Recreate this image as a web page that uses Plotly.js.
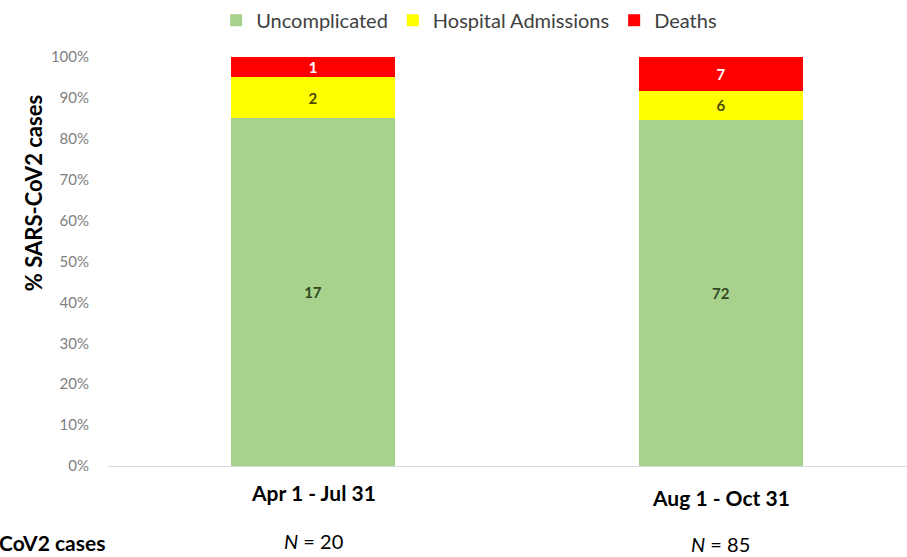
<!DOCTYPE html>
<html>
<head>
<meta charset="utf-8">
<script src="https://cdn.plot.ly/plotly-3.0.1.min.js"></script>
<style>
  html, body { margin: 0; padding: 0; background: #fff; }
  #chart { width: 907px; height: 557px; }
</style>
</head>
<body>
<div id="chart"></div>
<script>
// Study periods and case counts per outcome
const periods = ["Apr 1 - Jul 31", "Aug 1 - Oct 31"];
const totals = [20, 85];
const uncomplicated = [17, 72];
const hospital = [2, 6];
const deaths = [1, 7];
const yTicks = [0, 10, 20, 30, 40, 50, 60, 70, 80, 90, 100];

const FONT = "Lato, 'Open Sans', sans-serif";

function series(name, values, color, textColor) {
  return {
    type: "bar",
    name: name,
    x: periods,
    y: values,
    text: values.map(String),
    textposition: "inside",
    insidetextanchor: "middle",
    constraintext: "none",
    textangle: 0,
    textfont: { family: FONT, size: 15, color: textColor, weight: "bold" },
    marker: { color: color, line: { width: 0 } },
    hoverinfo: "name+y"
  };
}

const data = [
  series("Uncomplicated", uncomplicated, "#A9D18E", "#2F4A1F"),
  series("Hospital Admissions", hospital, "#FFFF00", "#4A4A00"),
  series("Deaths", deaths, "#FF0000", "#FFFFFF")
];

const annotations = [
  {
    text: "<b>% SARS-CoV2 cases</b>",
    xref: "paper", yref: "paper", x: -0.0939, y: 0.667,
    xanchor: "center", yanchor: "middle",
    textangle: -90, showarrow: false,
    font: { family: FONT, size: 22, color: "#000" }
  },
  {
    text: "<b>CoV2 cases</b>",
    xref: "paper", yref: "paper", x: -0.0015, y: -0.188,
    xanchor: "right", yanchor: "middle", showarrow: false,
    font: { family: FONT, size: 21, color: "#000" }
  }
];
// Period labels and sample sizes under each bar
const labelY = [-0.065, -0.078];
const nY = [-0.183, -0.190];
periods.forEach(function (p, i) {
  annotations.push({
    text: "<b>" + p + "</b>",
    xref: "x", yref: "paper", x: p, y: labelY[i],
    xanchor: "center", yanchor: "middle", showarrow: false,
    font: { family: FONT, size: 21, color: "#000" }
  });
  annotations.push({
    text: "<i>N</i> = " + totals[i],
    xref: "x", yref: "paper", x: p, y: nY[i],
    xanchor: "center", yanchor: "middle", showarrow: false,
    font: { family: FONT, size: 20, color: "#000" }
  });
});

const layout = {
  width: 907, height: 557,
  margin: { l: 108, r: 0, t: 57, b: 91 },
  paper_bgcolor: "#fff", plot_bgcolor: "#fff",
  barmode: "stack", barnorm: "percent", bargap: 0.6,
  showlegend: true,
  legend: {
    orientation: "h", xref: "paper", yref: "paper",
    x: 0.452, xanchor: "center", y: 1.09, yanchor: "middle",
    font: { family: FONT, size: 20, color: "#404040" },
    traceorder: "normal"
  },
  xaxis: {
    type: "category",
    range: [-0.5025, 1.456],
    showline: true, linecolor: "#D9D9D9", linewidth: 1,
    showgrid: false, zeroline: false,
    ticks: "", showticklabels: false,
    fixedrange: true
  },
  yaxis: {
    range: [0, 100],
    tickvals: yTicks,
    ticktext: yTicks.map(function (v) { return v + "%"; }),
    showgrid: false, zeroline: false, showline: false,
    ticks: "", ticklabelstandoff: 18,
    tickfont: { family: FONT, size: 15, color: "#808080" },
    fixedrange: true
  },
  annotations: annotations
};

Plotly.newPlot("chart", data, layout, { displayModeBar: false, staticPlot: true });
</script>
</body>
</html>
